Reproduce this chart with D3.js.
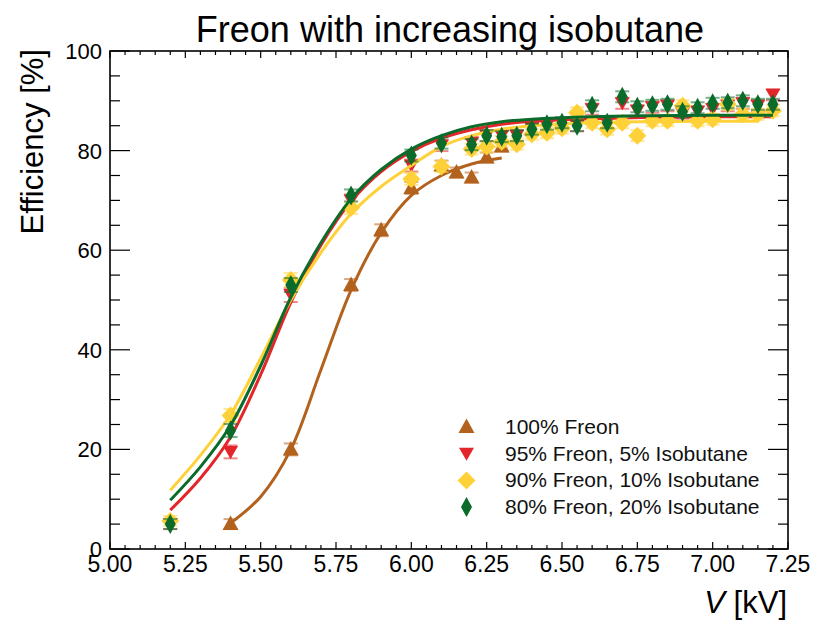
<!DOCTYPE html>
<html><head><meta charset="utf-8">
<script src="https://cdn.jsdelivr.net/npm/d3@7"></script>
<style>body{margin:0;background:#fff}svg{display:block}text{font-family:"Liberation Sans",Arial,Helvetica,sans-serif}</style>
</head><body><svg id="c" width="818" height="625"></svg>
<script>
// ---------- data ----------
const titleText = "Freon with increasing isobutane";
const seriesLabels = ["100% Freon", "95% Freon, 5% Isobutane", "90% Freon, 10% Isobutane", "80% Freon, 20% Isobutane"];
const xTicks = [5.00, 5.25, 5.50, 5.75, 6.00, 6.25, 6.50, 6.75, 7.00, 7.25];
const yTicks = [0, 20, 40, 60, 80, 100];

// 100% Freon
const vFreon100 = [5.40, 5.60, 5.80, 5.90, 6.00, 6.10, 6.15, 6.20, 6.25, 6.30];
const effFreon100 = [5.0, 20.0, 53.0, 64.0, 72.5, 77.0, 75.6, 74.6, 78.6, 80.8];
const errFreon100 = [1.0, 1.2, 1.2, 1.2, 1.2, 1.0, 1.0, 1.0, 1.0, 1.0];

// common voltage list for the isobutane mixtures
const vMix = [5.20, 5.40, 5.60, 5.80, 6.00, 6.10, 6.20, 6.25, 6.30, 6.35, 6.40, 6.45, 6.50, 6.55, 6.60, 6.65, 6.70, 6.75, 6.80, 6.85, 6.90, 6.95, 7.00, 7.05, 7.10, 7.15, 7.20];
// 95% Freon, 5% Isobutane
const effIso5 = [5.0, 19.5, 51.0, 70.0, 77.0, 81.0, 81.6, 83.0, 83.0, 83.0, 84.5, 85.0, 85.5, 85.0, 88.3, 85.5, 89.5, 88.0, 88.7, 89.0, 87.5, 87.8, 88.3, 89.0, 89.5, 89.0, 91.2];
const errIso5 = [1.0, 1.3, 1.4, 1.2, 1.2, 1.1, 1.1, 1.1, 1.1, 1.1, 1.1, 1.1, 1.1, 1.1, 1.1, 1.1, 1.1, 1.1, 1.1, 1.1, 1.1, 1.1, 1.1, 1.1, 1.1, 1.1, 1.1];
// 90% Freon, 10% Isobutane
const effIso10 = [5.6, 26.8, 54.0, 68.5, 74.3, 76.8, 80.3, 80.8, 81.8, 81.3, 83.3, 83.6, 84.5, 87.6, 85.6, 84.3, 85.6, 83.0, 86.0, 86.0, 89.0, 86.0, 86.3, 89.3, 87.3, 87.3, 88.0];
const errIso10 = [1.0, 1.3, 1.4, 1.2, 1.2, 1.1, 1.1, 1.1, 1.1, 1.1, 1.1, 1.1, 1.1, 1.1, 1.1, 1.1, 1.1, 1.1, 1.1, 1.1, 1.1, 1.1, 1.1, 1.1, 1.1, 1.1, 1.1];
// 80% Freon, 20% Isobutane
const effIso20 = [5.0, 23.8, 53.0, 71.0, 79.0, 81.5, 81.2, 83.0, 82.8, 83.0, 84.3, 85.3, 85.6, 85.0, 89.0, 85.6, 90.8, 88.8, 89.1, 89.3, 87.8, 88.6, 89.5, 89.6, 90.0, 89.3, 89.3];
const errIso20 = [1.0, 1.3, 1.4, 1.2, 1.2, 1.1, 1.1, 1.1, 1.1, 1.1, 1.1, 1.1, 1.1, 1.1, 1.1, 1.1, 1.1, 1.1, 1.1, 1.1, 1.1, 1.1, 1.1, 1.1, 1.1, 1.1, 1.1];

// fitted curves
const fitVFreon100 = [5.40, 5.50, 5.60, 5.70, 5.80, 5.90, 6.00, 6.10, 6.20, 6.30];
const fitFreon100 = [5.2, 10.5, 20.0, 36.0, 52.0, 63.5, 71.0, 75.0, 77.3, 78.5];
const fitVMix = [5.20, 5.30, 5.40, 5.50, 5.60, 5.70, 5.80, 5.90, 6.00, 6.10, 6.20, 6.30, 6.40, 6.60, 6.80, 7.00, 7.20];
const fitIso5 = [7.8, 14.2, 22.5, 35.0, 49.5, 61.0, 69.8, 75.8, 79.8, 82.5, 84.2, 85.3, 85.9, 86.4, 86.7, 86.8, 86.8];
const fitVIso10 = [5.20, 5.30, 5.40, 5.50, 5.60, 5.70, 5.80, 5.90, 6.00, 6.10, 6.20, 6.30, 6.40, 6.60, 6.80, 7.00, 7.15];
const fitIso10 = [11.8, 18.8, 27.0, 38.3, 50.0, 59.5, 67.3, 72.8, 77.0, 80.8, 83.0, 84.3, 85.0, 85.6, 85.8, 85.9, 85.9];
const fitIso20 = [9.8, 16.5, 24.8, 36.8, 50.5, 61.5, 70.3, 76.2, 80.3, 83.0, 84.8, 85.8, 86.3, 86.8, 87.0, 87.1, 87.1];

const colors = ["#B3621E", "#E3262A", "#FFD139", "#0A6B2B"];
const markerKinds = ["triUp", "triDown", "diamondWide", "diamondThin"];

// ---------- layout ----------
const L = 110, R = 788, T = 51, B = 549;
const svg = d3.select("#c");
const x = d3.scaleLinear().domain([5.0, 7.25]).range([L, R]);
const y = d3.scaleLinear().domain([0, 100]).range([B, T]);

function markerPath(kind) {
  switch (kind) {
    case "triUp": return "M0,-8.5L8,6L-8,6Z";
    case "triDown": return "M0,7L7.5,-6L-7.5,-6Z";
    case "diamondWide": return "M0,-9L9,0L0,9L-9,0Z";
    default: return "M0,-10L5.5,0L0,10L-5.5,0Z";
  }
}

const series = [
  {v: vFreon100, e: effFreon100, err: errFreon100, fv: fitVFreon100, f: fitFreon100},
  {v: vMix, e: effIso5, err: errIso5, fv: fitVMix, f: fitIso5},
  {v: vMix, e: effIso10, err: errIso10, fv: fitVIso10, f: fitIso10},
  {v: vMix, e: effIso20, err: errIso20, fv: fitVMix, f: fitIso20},
];

const line = d3.line().x(d => x(d[0])).y(d => y(d[1])).curve(d3.curveCatmullRom.alpha(0.5));
const plot = svg.append("g");

series.forEach((s, i) => {
  const g = plot.append("g");
  const pts = s.v.map((v, j) => ({v, e: s.e[j], err: s.err[j]}));
  const eb = g.append("g").attr("stroke", colors[i]).attr("stroke-opacity", 0.55).attr("stroke-width", 2).attr("fill", "none");
  pts.forEach(p => {
    const cx = x(p.v), y1 = y(p.e + p.err), y2 = y(p.e - p.err);
    eb.append("line").attr("x1", cx).attr("x2", cx).attr("y1", y1).attr("y2", y2);
    eb.append("line").attr("x1", cx - 7).attr("x2", cx + 7).attr("y1", y1).attr("y2", y1);
    eb.append("line").attr("x1", cx - 7).attr("x2", cx + 7).attr("y1", y2).attr("y2", y2);
  });
  g.append("path").attr("d", line(s.fv.map((v, j) => [v, s.f[j]])))
    .attr("fill", "none").attr("stroke", colors[i]).attr("stroke-width", 3);
  g.selectAll("path.m").data(pts).join("path").attr("class", "m")
    .attr("d", markerPath(markerKinds[i]))
    .attr("transform", p => `translate(${x(p.v)},${y(p.e)})`)
    .attr("fill", colors[i]);
});

// ---------- axes ----------
const ax = svg.append("g").attr("stroke", "#000");
ax.append("rect").attr("x", L).attr("y", T).attr("width", R - L).attr("height", B - T)
  .attr("fill", "none").attr("stroke-width", 1.6);
d3.range(0, 46).forEach(k => {
  const v = 5 + k * 0.05;
  const len = (k % 5 === 0) ? 7 : 4;
  const px = x(v);
  ax.append("line").attr("x1", px).attr("x2", px).attr("y1", B).attr("y2", B - len).attr("stroke-width", 1.2);
  ax.append("line").attr("x1", px).attr("x2", px).attr("y1", T).attr("y2", T + len).attr("stroke-width", 1.2);
});
d3.range(0, 21).forEach(k => {
  const v = k * 5;
  const len = (k % 4 === 0) ? 20 : 10;
  const py = y(v);
  ax.append("line").attr("x1", L).attr("x2", L + len).attr("y1", py).attr("y2", py).attr("stroke-width", 1.2);
  ax.append("line").attr("x1", R).attr("x2", R - len).attr("y1", py).attr("y2", py).attr("stroke-width", 1.2);
});

// tick labels
svg.append("g").selectAll("text").data(xTicks).join("text")
  .attr("x", d => x(d)).attr("y", 572).attr("text-anchor", "middle")
  .attr("font-size", 23).attr("fill", "#000").text(d => d.toFixed(2));
svg.append("g").selectAll("text").data(yTicks).join("text")
  .attr("x", 102).attr("y", d => y(d) + 8).attr("text-anchor", "end")
  .attr("font-size", 22).attr("fill", "#000").text(d => d);

// title & labels
svg.append("text").attr("x", 450).attr("y", 42).attr("text-anchor", "middle")
  .attr("font-size", 36).attr("fill", "#000").text(titleText);
svg.append("text").attr("transform", "translate(43,49) rotate(-90)").attr("text-anchor", "end")
  .attr("font-size", 31).attr("fill", "#000").text("Efficiency [%]");
const xl = svg.append("text").attr("x", 787).attr("y", 613).attr("text-anchor", "end")
  .attr("font-size", 31).attr("fill", "#000");
xl.append("tspan").attr("font-style", "italic").text("V");
xl.append("tspan").text(" [kV]");

// legend
const leg = svg.append("g");
seriesLabels.forEach((lab, i) => {
  const cy = 427 + i * 26.7;
  leg.append("path").attr("d", markerPath(markerKinds[i])).attr("transform", `translate(466.5,${cy})`).attr("fill", colors[i]);
  leg.append("text").attr("x", 505).attr("y", cy + 7).attr("font-size", 21).attr("fill", "#111").text(lab);
});
</script></body></html>
